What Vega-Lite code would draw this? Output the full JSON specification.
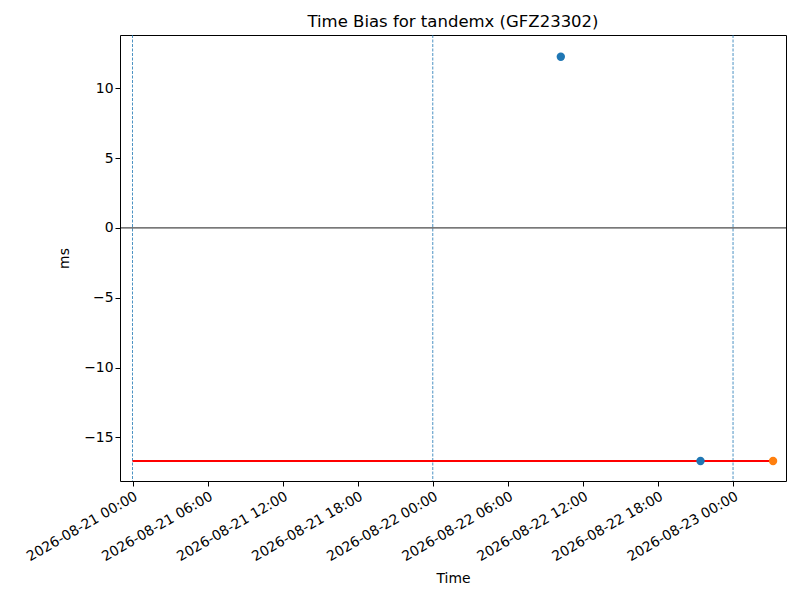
{
  "$schema": "https://vega.github.io/schema/vega-lite/v6.json",
  "width": 666,
  "height": 446,
  "autosize": {"type": "none"},
  "padding": {"left": 120, "top": 35, "right": 14, "bottom": 119},
  "background": "white",
  "config": {
    "font": "DejaVu Sans",
    "view": {"stroke": "black", "strokeWidth": 1},
    "axis": {
      "grid": false,
      "domain": false,
      "tickColor": "black",
      "tickSize": 5,
      "labelColor": "black",
      "labelFontSize": 13.9,
      "titleFontSize": 13.9,
      "titleFontWeight": "normal",
      "titleColor": "black"
    },
    "title": {"fontSize": 16.5, "fontWeight": "normal", "color": "black", "offset": 4}
  },
  "title": "Time Bias for tandemx (GFZ23302)",
  "datasets": {
    "days": [
      {"t": "2026-08-21T00:00:00Z"},
      {"t": "2026-08-22T00:00:00Z"},
      {"t": "2026-08-23T00:00:00Z"}
    ],
    "ref": [
      {"start": "2026-08-21T00:00:00Z", "end": "2026-08-23T03:12:00Z", "bias": -16.7}
    ],
    "zero": [
      {"bias": 0}
    ],
    "points": [
      {"t": "2026-08-22T10:14:00Z", "bias": 12.26, "series": "a"},
      {"t": "2026-08-22T21:24:00Z", "bias": -16.7, "series": "a"},
      {"t": "2026-08-23T03:12:00Z", "bias": -16.7, "series": "b"}
    ]
  },
  "layer": [
    {
      "data": {"name": "days"},
      "mark": {"type": "rule", "color": "#1f77b4", "strokeWidth": 0.8, "strokeDash": [3, 1.5]},
      "encoding": {
        "x": {
          "field": "t",
          "type": "temporal",
          "scale": {
            "type": "utc",
            "domain": [
              {"year": 2026, "month": 8, "date": 20, "hours": 23, "utc": true},
              {"year": 2026, "month": 8, "date": 23, "hours": 4, "minutes": 14, "utc": true}
            ]
          },
          "axis": {
            "title": "Time",
            "format": "%Y-%m-%d %H:%M",
            "values": [
              {"year": 2026, "month": 8, "date": 21, "hours": 0, "utc": true},
              {"year": 2026, "month": 8, "date": 21, "hours": 6, "utc": true},
              {"year": 2026, "month": 8, "date": 21, "hours": 12, "utc": true},
              {"year": 2026, "month": 8, "date": 21, "hours": 18, "utc": true},
              {"year": 2026, "month": 8, "date": 22, "hours": 0, "utc": true},
              {"year": 2026, "month": 8, "date": 22, "hours": 6, "utc": true},
              {"year": 2026, "month": 8, "date": 22, "hours": 12, "utc": true},
              {"year": 2026, "month": 8, "date": 22, "hours": 18, "utc": true},
              {"year": 2026, "month": 8, "date": 23, "hours": 0, "utc": true}
            ],
            "labelOverlap": false,
            "labelAngle": -30,
            "labelAlign": "right",
            "labelBaseline": "top",
            "labelPadding": 3,
            "labelDx": -6,
            "titlePadding": 8
          }
        }
      }
    },
    {
      "data": {"name": "zero"},
      "mark": {"type": "rule", "color": "black", "strokeWidth": 0.9},
      "encoding": {
        "y": {
          "field": "bias",
          "type": "quantitative",
          "scale": {"domain": [-18.13, 13.82], "nice": false, "zero": false},
          "axis": {
            "title": "ms",
            "values": [-15, -10, -5, 0, 5, 10],
            "titlePadding": 12
          }
        }
      }
    },
    {
      "data": {"name": "ref"},
      "mark": {"type": "rule", "color": "red", "strokeWidth": 2},
      "encoding": {
        "x": {"field": "start", "type": "temporal"},
        "x2": {"field": "end"},
        "y": {"field": "bias", "type": "quantitative"}
      }
    },
    {
      "data": {"name": "points"},
      "mark": {"type": "circle", "size": 70, "opacity": 1},
      "encoding": {
        "x": {"field": "t", "type": "temporal"},
        "y": {"field": "bias", "type": "quantitative"},
        "color": {
          "field": "series",
          "type": "nominal",
          "scale": {"domain": ["a", "b"], "range": ["#1f77b4", "#ff7f0e"]},
          "legend": null
        }
      }
    }
  ]
}
